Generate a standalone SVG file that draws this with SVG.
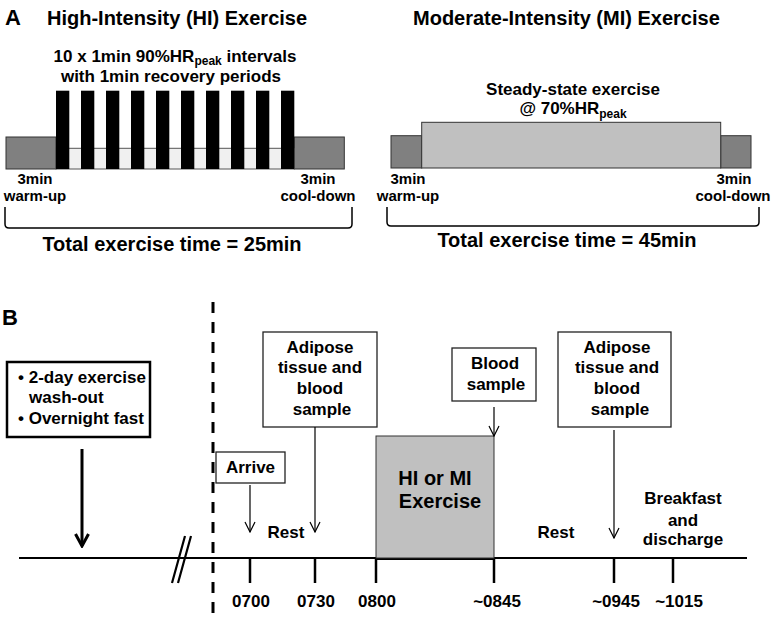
<svg xmlns="http://www.w3.org/2000/svg" width="771" height="627" viewBox="0 0 771 627">
<style>
text{font-family:"Liberation Sans",Arial,sans-serif;font-weight:bold;fill:#000}
.t20{font-size:20px}
.t17{font-size:17px}
.t15{font-size:15px}
.sub{font-size:12px}
.dark{fill:#808080;stroke:#333;stroke-width:1}
.light{fill:#c0c0c0;stroke:#333;stroke-width:1}
.pale{fill:#f0f0f0;stroke:#555;stroke-width:1}
.bar{fill:#000}
.box{fill:#fff;stroke:#222;stroke-width:1.3}
.thin{stroke:#000;stroke-width:1.2;fill:none}
.brk{stroke:#000;stroke-width:1.5;fill:none}
.axis{stroke:#000;stroke-width:2.2;fill:none}
.tick{stroke:#000;stroke-width:2.5}
</style>
<defs>
<marker id="vthin" viewBox="0 0 12 12" refX="11" refY="6" markerWidth="12" markerHeight="12" markerUnits="userSpaceOnUse" orient="auto">
<path d="M1,1 L11,6 L1,11" fill="none" stroke="#000" stroke-width="1.2"/>
</marker>
<marker id="vthick" viewBox="0 0 16 16" refX="14" refY="8" markerWidth="16" markerHeight="16" markerUnits="userSpaceOnUse" orient="auto">
<path d="M2,1.5 L14,8 L2,14.5" fill="none" stroke="#000" stroke-width="3"/>
</marker>
</defs>
<rect width="771" height="627" fill="#fff"/>

<!-- Panel A -->
<g id="panelA-labels">
<text x="5" y="25" style="font-size:22px">A</text>
<text x="47" y="25" class="t20">High-Intensity (HI) Exercise</text>
<text x="413" y="25" class="t20">Moderate-Intensity (MI) Exercise</text>
</g>

<g id="hi-protocol">
<text x="175" y="62" class="t17" text-anchor="middle">10 x 1min 90%HR<tspan class="sub" dy="3">peak</tspan><tspan dy="-3"> intervals</tspan></text>
<text x="171" y="82" class="t17" text-anchor="middle">with 1min recovery periods</text>
<rect class="dark" x="6" y="137" width="50" height="32"/>
<rect class="dark" x="294.3" y="137" width="50" height="32"/>
<rect class="pale" x="56" y="148.3" width="238.3" height="20.7"/>
<g class="bar">
<rect x="56" y="90.7" width="13.3" height="78.3"/>
<rect x="81" y="90.7" width="13.3" height="78.3"/>
<rect x="106" y="90.7" width="13.3" height="78.3"/>
<rect x="131" y="90.7" width="13.3" height="78.3"/>
<rect x="156" y="90.7" width="13.3" height="78.3"/>
<rect x="181" y="90.7" width="13.3" height="78.3"/>
<rect x="206" y="90.7" width="13.3" height="78.3"/>
<rect x="231" y="90.7" width="13.3" height="78.3"/>
<rect x="256" y="90.7" width="13.3" height="78.3"/>
<rect x="281" y="90.7" width="13.3" height="78.3"/>
</g>
<text x="35" y="184" class="t15" text-anchor="middle">3min</text>
<text x="35" y="200.5" class="t15" text-anchor="middle">warm-up</text>
<text x="318" y="184" class="t15" text-anchor="middle">3min</text>
<text x="318" y="200.5" class="t15" text-anchor="middle">cool-down</text>
<path class="brk" d="M5,207 V224 Q5,228 9,228 H348 Q352,228 352,224 V207"/>
<text x="172" y="251" class="t20" text-anchor="middle">Total exercise time = 25min</text>
</g>

<g id="mi-protocol">
<text x="573" y="95" class="t17" text-anchor="middle">Steady-state exercise</text>
<text x="573" y="114" class="t17" text-anchor="middle">@ 70%HR<tspan class="sub" dy="3.5">peak</tspan></text>
<rect class="dark" x="391" y="135.7" width="30.7" height="32.3"/>
<rect class="dark" x="720.7" y="135.7" width="30.3" height="32.3"/>
<rect class="light" x="421.7" y="122.3" width="299" height="45.7"/>
<text x="408" y="184" class="t15" text-anchor="middle">3min</text>
<text x="408" y="200.5" class="t15" text-anchor="middle">warm-up</text>
<text x="734" y="184" class="t15" text-anchor="middle">3min</text>
<text x="733" y="200.5" class="t15" text-anchor="middle">cool-down</text>
<path class="brk" d="M387,207 V222 Q387,226 391,226 H755 Q759,226 759,222 V207"/>
<text x="567" y="247" class="t20" text-anchor="middle">Total exercise time = 45min</text>
</g>

<!-- Panel B -->
<text x="2" y="325" style="font-size:22px">B</text>

<g id="timeline">
<line class="axis" x1="19" y1="558" x2="747" y2="558"/>
<line stroke="#000" stroke-width="4" x1="376" y1="558" x2="494" y2="558"/>
<path stroke="#000" stroke-width="2.2" fill="none" d="M185,536 L172,583 M191,536 L178,583"/>
<line stroke="#000" stroke-width="3" stroke-dasharray="11,9" x1="213" y1="302" x2="213" y2="620"/>
<line class="tick" x1="250" y1="558" x2="250" y2="583"/>
<line class="tick" x1="315" y1="558" x2="315" y2="583"/>
<line class="tick" x1="376" y1="558" x2="376" y2="583"/>
<line class="tick" x1="494" y1="558" x2="494" y2="583"/>
<line class="tick" x1="614" y1="558" x2="614" y2="583"/>
<line class="tick" x1="673" y1="558" x2="673" y2="583"/>
<text x="251" y="607" class="t17" text-anchor="middle">0700</text>
<text x="316" y="607" class="t17" text-anchor="middle">0730</text>
<text x="377" y="607" class="t17" text-anchor="middle">0800</text>
<text x="497" y="607" class="t17" text-anchor="middle">~0845</text>
<text x="616" y="607" class="t17" text-anchor="middle">~0945</text>
<text x="679" y="607" class="t17" text-anchor="middle">~1015</text>
<text x="286" y="538" class="t17" text-anchor="middle">Rest</text>
<text x="556" y="538" class="t17" text-anchor="middle">Rest</text>
</g>

<g id="prep-box">
<rect x="7" y="362" width="143" height="75" fill="#fff" stroke="#000" stroke-width="2.5"/>
<text x="18" y="383" class="t17">• 2-day exercise</text>
<text x="29" y="403" class="t17">wash-out</text>
<text x="18" y="424" class="t17">• Overnight fast</text>
</g>

<g id="arrive-box">
<rect class="box" x="216" y="452" width="69" height="31"/>
<text x="250.5" y="473" class="t17" text-anchor="middle">Arrive</text>
</g>

<g id="adipose-box-1">
<rect class="box" x="263" y="332" width="114" height="95"/>
<text x="320" y="353" class="t17" text-anchor="middle">Adipose</text>
<text x="320" y="373" class="t17" text-anchor="middle">tissue and</text>
<text x="320" y="394" class="t17" text-anchor="middle">blood</text>
<text x="322" y="415" class="t17" text-anchor="middle">sample</text>
</g>

<g id="exercise-box">
<rect class="light" x="376" y="436" width="118" height="122"/>
<text x="435" y="485" class="t20" text-anchor="middle">HI or MI</text>
<text x="440" y="508" class="t20" text-anchor="middle">Exercise</text>
</g>

<g id="blood-box">
<rect class="box" x="452" y="348" width="84" height="53"/>
<text x="495" y="369" class="t17" text-anchor="middle">Blood</text>
<text x="496" y="390" class="t17" text-anchor="middle">sample</text>
</g>

<g id="adipose-box-2">
<rect class="box" x="558" y="332" width="113" height="95"/>
<text x="617" y="353" class="t17" text-anchor="middle">Adipose</text>
<text x="617" y="373" class="t17" text-anchor="middle">tissue and</text>
<text x="617" y="394" class="t17" text-anchor="middle">blood</text>
<text x="620" y="415" class="t17" text-anchor="middle">sample</text>
</g>

<g id="breakfast-label">
<text x="683" y="504" class="t17" text-anchor="middle">Breakfast</text>
<text x="683" y="526" class="t17" text-anchor="middle">and</text>
<text x="683" y="545" class="t17" text-anchor="middle">discharge</text>
</g>

<g id="connectors">
<line stroke="#000" stroke-width="3" x1="82" y1="449" x2="82" y2="546" marker-end="url(#vthick)"/>
<line class="thin" x1="250" y1="485" x2="250" y2="532" marker-end="url(#vthin)"/>
<line class="thin" x1="315" y1="427" x2="315" y2="532" marker-end="url(#vthin)"/>
<line class="thin" x1="494" y1="407" x2="494" y2="436" marker-end="url(#vthin)"/>
<line class="thin" x1="614" y1="430" x2="614" y2="538" marker-end="url(#vthin)"/>
</g>
</svg>
